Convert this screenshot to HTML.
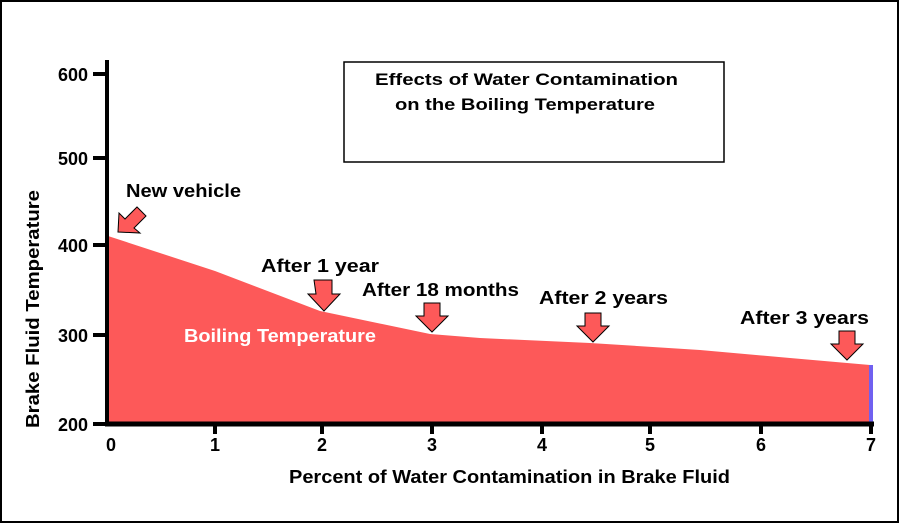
<!DOCTYPE html>
<html><head><style>
html,body{margin:0;padding:0;background:#fff}
svg{display:block}
text{font-family:"Liberation Sans",sans-serif;font-weight:bold}
</style></head><body>
<svg width="900" height="524" viewBox="0 0 900 524">
<rect x="1" y="1" width="897" height="521" fill="#fff" stroke="#000" stroke-width="2"/>
<rect x="344" y="62" width="380" height="100" fill="#fff" stroke="#000" stroke-width="1.5"/>
<text x="375" y="85" font-size="17" textLength="303" lengthAdjust="spacingAndGlyphs">Effects of Water Contamination</text>
<text x="395" y="110" font-size="17" textLength="260" lengthAdjust="spacingAndGlyphs">on the Boiling Temperature</text>
<path d="M108,236 L215,271 L320,311 L430,334 L480,338 L590,343 L700,350 L790,358 L870,365 L870,424 L108,424 Z" fill="#fd5959"/>
<rect x="869" y="365" width="4" height="59" fill="#7060f0"/>
<text x="184" y="342" font-size="18" fill="#fff" textLength="192" lengthAdjust="spacingAndGlyphs">Boiling Temperature</text>
<line x1="107" y1="60" x2="107" y2="426" stroke="#000" stroke-width="4"/>
<line x1="105" y1="424" x2="874" y2="424" stroke="#000" stroke-width="5"/>
<g stroke="#000" stroke-width="4">
<line x1="93" y1="74" x2="107" y2="74"/><line x1="93" y1="158" x2="107" y2="158"/><line x1="93" y1="245" x2="107" y2="245"/><line x1="93" y1="335" x2="107" y2="335"/><line x1="93" y1="424" x2="107" y2="424"/>
<line x1="215" y1="424" x2="215" y2="434"/><line x1="322" y1="424" x2="322" y2="434"/><line x1="432" y1="424" x2="432" y2="434"/><line x1="542" y1="424" x2="542" y2="434"/><line x1="650" y1="424" x2="650" y2="434"/><line x1="761" y1="424" x2="761" y2="434"/><line x1="871" y1="424" x2="871" y2="434"/>
</g>
<g font-size="18" text-anchor="end">
<text x="88" y="81">600</text><text x="88" y="165">500</text><text x="88" y="252">400</text><text x="88" y="342">300</text><text x="88" y="431">200</text>
</g>
<g font-size="18" text-anchor="middle">
<text x="111" y="451">0</text><text x="215" y="451">1</text><text x="322" y="451">2</text><text x="432" y="451">3</text><text x="542" y="451">4</text><text x="650" y="451">5</text><text x="761" y="451">6</text><text x="871" y="451">7</text>
</g>
<text x="289" y="483" font-size="18" textLength="441" lengthAdjust="spacingAndGlyphs">Percent of Water Contamination in Brake Fluid</text>
<text transform="translate(39,428) rotate(-90)" font-size="18" textLength="238" lengthAdjust="spacingAndGlyphs">Brake Fluid Temperature</text>
<g font-size="18">
<text x="126" y="197" textLength="115" lengthAdjust="spacingAndGlyphs">New vehicle</text>
<text x="261" y="272" textLength="118" lengthAdjust="spacingAndGlyphs">After 1 year</text>
<text x="362" y="296" textLength="157" lengthAdjust="spacingAndGlyphs">After 18 months</text>
<text x="539" y="304" textLength="129" lengthAdjust="spacingAndGlyphs">After 2 years</text>
<text x="740" y="324" textLength="129" lengthAdjust="spacingAndGlyphs">After 3 years</text>
</g>
<g fill="#fd5959" stroke="#000" stroke-width="1">
<path d="M118,232 L119,213 L125,219 L137,207 L146,216 L134,228 L140,233 Z"/>
<path d="M316,280 L334,280 L334,294 L342,294 L326,311 L310,294 L318,294 Z" transform="translate(-2,0)"/>
<path d="M424,303 L440,303 L440,316 L448,316 L432,332 L416,316 L424,316 Z"/>
<path d="M585,313 L601,313 L601,326 L609,326 L593,342 L577,326 L585,326 Z"/>
<path d="M839,331 L855,331 L855,344 L863,344 L847,360 L831,344 L839,344 Z"/>
</g>
</svg>
</body></html>
